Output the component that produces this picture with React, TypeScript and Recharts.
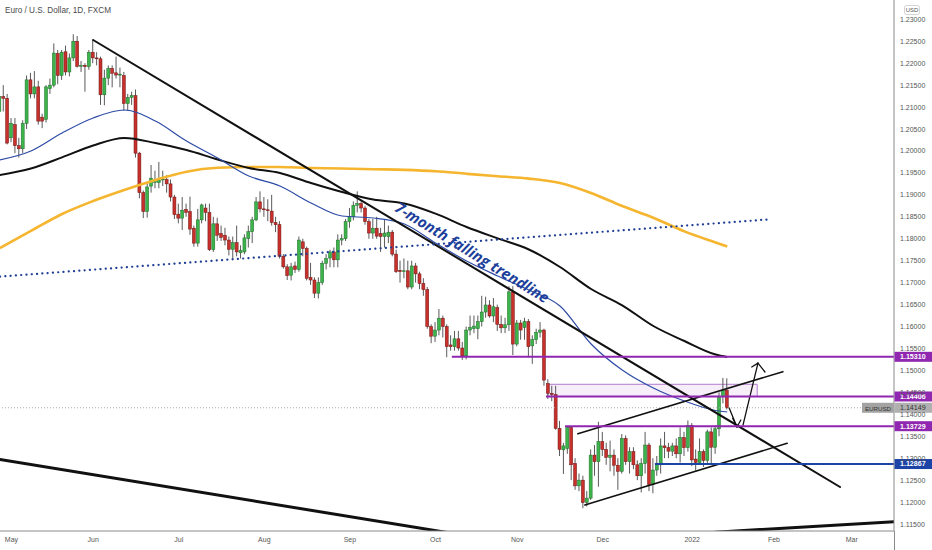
import React from 'react';
import { ComposedChart, Bar, Line, XAxis, YAxis, ReferenceLine, ReferenceArea, ReferenceDot } from 'recharts';

document.body.style.margin = '0';

// daily EUR/USD candles, bar 0 = 28 Apr 2021, last bar = 14 Jan 2022
const opens = [
  1.2090, 1.2124, 1.2120, 1.2030, 1.2060, 1.2012, 1.2005, 1.2063, 1.2162, 1.2130,
  1.2146, 1.2077, 1.2072, 1.2142, 1.2150, 1.2222, 1.2172, 1.2226, 1.2180, 1.2212,
  1.2250, 1.2193, 1.2195, 1.2192, 1.2225, 1.2212, 1.2210, 1.2128, 1.2166, 1.2188,
  1.2178, 1.2173, 1.2172, 1.2108, 1.2122, 1.2126, 1.1995, 1.1905, 1.1862, 1.1920,
  1.1928, 1.1928, 1.1934, 1.1935, 1.1925, 1.1895, 1.1856, 1.1847, 1.1867, 1.1862,
  1.1824, 1.1790, 1.1843, 1.1870, 1.1860, 1.1775, 1.1834, 1.1812, 1.1808, 1.1797,
  1.1776, 1.1791, 1.1768, 1.1770, 1.1800, 1.1816, 1.1843, 1.1884, 1.1868, 1.1866,
  1.1863, 1.1837, 1.1832, 1.1760, 1.1736, 1.1717, 1.1738, 1.1730, 1.1793, 1.1778,
  1.1712, 1.1706, 1.1676, 1.1700, 1.1744, 1.1756, 1.1770, 1.1752, 1.1797, 1.1800,
  1.1839, 1.1850, 1.1876, 1.1880, 1.1870, 1.1839, 1.1813, 1.1824, 1.1812, 1.1805,
  1.1805, 1.1815, 1.1765, 1.1728, 1.1725, 1.1727, 1.1690, 1.1738, 1.1720, 1.1698,
  1.1684, 1.1600, 1.1578, 1.1592, 1.1619, 1.1600, 1.1558, 1.1554, 1.1572, 1.1551,
  1.1533, 1.1592, 1.1595, 1.1595, 1.1611, 1.1633, 1.1649, 1.1624, 1.1643, 1.1605,
  1.1597, 1.1604, 1.1679, 1.1560, 1.1608, 1.1598, 1.1611, 1.1556, 1.1570, 1.1587,
  1.1592, 1.1470, 1.1448, 1.1445, 1.1368, 1.1319, 1.1322, 1.1370, 1.1288, 1.1237,
  1.1250, 1.1199, 1.1209, 1.1307, 1.1292, 1.1338, 1.1320, 1.1302, 1.1307, 1.1284,
  1.1270, 1.1345, 1.1292, 1.1315, 1.1285, 1.1260, 1.1288, 1.1330, 1.1240, 1.1273,
  1.1285, 1.1328, 1.1324, 1.1316, 1.1328, 1.1310, 1.1347, 1.1324, 1.1375, 1.1298,
  1.1290, 1.1315, 1.1295, 1.1360, 1.1325, 1.1367, 1.1440, 1.1455,
];
const highs = [
  1.2130, 1.2150, 1.2130, 1.2075, 1.2075, 1.2030, 1.2070, 1.2172, 1.2178, 1.2182,
  1.2160, 1.2085, 1.2150, 1.2165, 1.2245, 1.2230, 1.2230, 1.2240, 1.2222, 1.2266,
  1.2262, 1.2205, 1.2200, 1.2230, 1.2254, 1.2225, 1.2215, 1.2185, 1.2195, 1.2195,
  1.2215, 1.2190, 1.2180, 1.2130, 1.2135, 1.2140, 1.1998, 1.1910, 1.1925, 1.1968,
  1.1955, 1.1975, 1.1955, 1.1945, 1.1935, 1.1900, 1.1880, 1.1895, 1.1880, 1.1896,
  1.1830, 1.1868, 1.1880, 1.1880, 1.1880, 1.1850, 1.1848, 1.1830, 1.1825, 1.1805,
  1.1805, 1.1830, 1.1785, 1.1810, 1.1830, 1.1850, 1.1895, 1.1908, 1.1895, 1.1890,
  1.1900, 1.1850, 1.1840, 1.1765, 1.1742, 1.1745, 1.1748, 1.1805, 1.1800, 1.1782,
  1.1745, 1.1712, 1.1712, 1.1750, 1.1765, 1.1775, 1.1780, 1.1810, 1.1810, 1.1845,
  1.1870, 1.1885, 1.1908, 1.1885, 1.1875, 1.1845, 1.1845, 1.1850, 1.1825, 1.1845,
  1.1830, 1.1820, 1.1775, 1.1750, 1.1755, 1.1750, 1.1750, 1.1745, 1.1725, 1.1710,
  1.1690, 1.1605, 1.1610, 1.1640, 1.1625, 1.1605, 1.1580, 1.1590, 1.1590, 1.1565,
  1.1600, 1.1625, 1.1625, 1.1625, 1.1670, 1.1668, 1.1660, 1.1665, 1.1650, 1.1625,
  1.1620, 1.1692, 1.1692, 1.1615, 1.1615, 1.1620, 1.1617, 1.1580, 1.1595, 1.1610,
  1.1595, 1.1480, 1.1465, 1.1465, 1.1385, 1.1335, 1.1373, 1.1373, 1.1300, 1.1265,
  1.1260, 1.1225, 1.1320, 1.1330, 1.1383, 1.1360, 1.1335, 1.1340, 1.1320, 1.1300,
  1.1355, 1.1352, 1.1325, 1.1325, 1.1295, 1.1300, 1.1360, 1.1335, 1.1300, 1.1305,
  1.1345, 1.1360, 1.1335, 1.1335, 1.1345, 1.1370, 1.1360, 1.1386, 1.1380, 1.1320,
  1.1345, 1.1320, 1.1365, 1.1370, 1.1375, 1.1450, 1.1483, 1.1482,
];
const lows = [
  1.2075, 1.2090, 1.2015, 1.2020, 1.1995, 1.1985, 1.1995, 1.2050, 1.2120, 1.2120,
  1.2060, 1.2052, 1.2065, 1.2130, 1.2145, 1.2152, 1.2162, 1.2172, 1.2170, 1.2205,
  1.2190, 1.2180, 1.2135, 1.2185, 1.2200, 1.2195, 1.2105, 1.2104, 1.2150, 1.2145,
  1.2165, 1.2145, 1.2092, 1.2093, 1.2105, 1.1985, 1.1892, 1.1847, 1.1848, 1.1905,
  1.1915, 1.1915, 1.1920, 1.1905, 1.1885, 1.1845, 1.1835, 1.1820, 1.1850, 1.1809,
  1.1782, 1.1782, 1.1835, 1.1840, 1.1772, 1.1770, 1.1795, 1.1795, 1.1785, 1.1762,
  1.1752, 1.1760, 1.1755, 1.1765, 1.1780, 1.1790, 1.1840, 1.1860, 1.1850, 1.1840,
  1.1830, 1.1815, 1.1755, 1.1732, 1.1706, 1.1705, 1.1722, 1.1725, 1.1760, 1.1705,
  1.1695, 1.1665, 1.1664, 1.1695, 1.1730, 1.1735, 1.1735, 1.1735, 1.1785, 1.1795,
  1.1825, 1.1842, 1.1860, 1.1860, 1.1832, 1.1800, 1.1800, 1.1800, 1.1770, 1.1780,
  1.1790, 1.1760, 1.1722, 1.1700, 1.1710, 1.1685, 1.1685, 1.1700, 1.1685, 1.1670,
  1.1595, 1.1562, 1.1565, 1.1580, 1.1575, 1.1530, 1.1545, 1.1545, 1.1545, 1.1524,
  1.1525, 1.1580, 1.1585, 1.1571, 1.1600, 1.1620, 1.1620, 1.1610, 1.1590, 1.1585,
  1.1585, 1.1590, 1.1535, 1.1555, 1.1570, 1.1570, 1.1530, 1.1515, 1.1560, 1.1575,
  1.1465, 1.1435, 1.1430, 1.1365, 1.1305, 1.1264, 1.1310, 1.1250, 1.1228, 1.1225,
  1.1186, 1.1190, 1.1205, 1.1260, 1.1235, 1.1305, 1.1285, 1.1270, 1.1260, 1.1228,
  1.1265, 1.1285, 1.1265, 1.1275, 1.1250, 1.1222, 1.1265, 1.1225, 1.1220, 1.1260,
  1.1265, 1.1300, 1.1300, 1.1305, 1.1300, 1.1290, 1.1305, 1.1315, 1.1282, 1.1272,
  1.1285, 1.1280, 1.1285, 1.1285, 1.1310, 1.1350, 1.1425, 1.1411,
];
const closes = [
  1.2124, 1.2120, 1.2018, 1.2063, 1.2012, 1.2005, 1.2063, 1.2162, 1.2130, 1.2146,
  1.2068, 1.2068, 1.2146, 1.2150, 1.2223, 1.2172, 1.2225, 1.2180, 1.2212, 1.2250,
  1.2193, 1.2195, 1.2192, 1.2225, 1.2212, 1.2210, 1.2128, 1.2166, 1.2188, 1.2177,
  1.2173, 1.2175, 1.2108, 1.2122, 1.2126, 1.1995, 1.1905, 1.1862, 1.1918, 1.1938,
  1.1934, 1.1934, 1.1936, 1.1925, 1.1895, 1.1855, 1.1847, 1.1865, 1.1860, 1.1822,
  1.1790, 1.1843, 1.1877, 1.1860, 1.1775, 1.1834, 1.1808, 1.1803, 1.1797, 1.1776,
  1.1791, 1.1770, 1.1773, 1.1802, 1.1816, 1.1843, 1.1884, 1.1868, 1.1866, 1.1864,
  1.1837, 1.1832, 1.1760, 1.1736, 1.1716, 1.1736, 1.1730, 1.1797, 1.1778, 1.1710,
  1.1706, 1.1676, 1.1700, 1.1744, 1.1755, 1.1770, 1.1752, 1.1797, 1.1800, 1.1839,
  1.1850, 1.1876, 1.1880, 1.1870, 1.1839, 1.1813, 1.1824, 1.1806, 1.1805, 1.1813,
  1.1815, 1.1765, 1.1725, 1.1725, 1.1727, 1.1690, 1.1738, 1.1720, 1.1698, 1.1684,
  1.1600, 1.1578, 1.1592, 1.1619, 1.1600, 1.1554, 1.1554, 1.1572, 1.1551, 1.1533,
  1.1592, 1.1598, 1.1601, 1.1611, 1.1633, 1.1649, 1.1624, 1.1645, 1.1605, 1.1597,
  1.1604, 1.1679, 1.1560, 1.1608, 1.1592, 1.1611, 1.1554, 1.1570, 1.1587, 1.1592,
  1.1478, 1.1448, 1.1445, 1.1368, 1.1320, 1.1328, 1.1370, 1.1285, 1.1237, 1.1250,
  1.1199, 1.1209, 1.1307, 1.1292, 1.1338, 1.1320, 1.1302, 1.1307, 1.1284, 1.1270,
  1.1345, 1.1292, 1.1315, 1.1285, 1.1260, 1.1288, 1.1330, 1.1240, 1.1273, 1.1285,
  1.1328, 1.1324, 1.1316, 1.1328, 1.1310, 1.1347, 1.1324, 1.1375, 1.1296, 1.1290,
  1.1315, 1.1295, 1.1360, 1.1325, 1.1367, 1.1440, 1.1455, 1.14149,
];

// moving averages at these bars
const maIndex = [0, 8, 16, 24, 32, 40, 48, 56, 64, 72, 80, 88, 96, 104, 112, 120, 128, 136, 144, 152, 160, 168, 176, 184, 187];
const maBlue = [
  1.19794, 1.19999, 1.20409, 1.20751, 1.20933, 1.20683, 1.20227, 1.19840, 1.19430, 1.19202,
  1.18815, 1.18518, 1.18473, 1.18336, 1.17903, 1.17493, 1.17151, 1.16832, 1.16468, 1.15602,
  1.15010, 1.14600, 1.14303, 1.14087, 1.14053,
];
const maBlack = [
  1.19453, 1.19601, 1.19854, 1.20125, 1.20296, 1.20182, 1.20022, 1.19806, 1.19612, 1.19498,
  1.19270, 1.19065, 1.18894, 1.18803, 1.18573, 1.18268, 1.18008, 1.17755, 1.17356, 1.16855,
  1.16484, 1.16012, 1.15670, 1.15363, 1.15306,
];
const maOrange = [
  1.17789, 1.18177, 1.18564, 1.18860, 1.19111, 1.19339, 1.19528, 1.19617, 1.19635, 1.19635,
  1.19612, 1.19600, 1.19585, 1.19570, 1.19539, 1.19480, 1.19423, 1.19370, 1.19270, 1.19042,
  1.18746, 1.18480, 1.18168, 1.17915, 1.17823,
];

const monthTicks = [3, 24, 46, 68, 90, 112, 133, 155, 178, 199, 219];
const monthLabels = ['May', 'Jun', 'Jul', 'Aug', 'Sep', 'Oct', 'Nov', 'Dec', '2022', 'Feb', 'Mar'];
const priceTicks = [
  1.115, 1.12, 1.125, 1.13, 1.135, 1.14, 1.145, 1.15, 1.155, 1.16, 1.165, 1.17,
  1.175, 1.18, 1.185, 1.19, 1.195, 1.2, 1.205, 1.21, 1.215, 1.22, 1.225, 1.23,
];

// horizontal levels: price and the bar they start from
const purpleLevels = [1.1531, 1.14406, 1.13729];
const purpleStart = [116.2, 140.4, 145.3];
const blueLevel = 1.12867;
const blueStart = 168.4;
const lastPrice = 1.14149;

// drawings (bar index, price)
const fallingTrend = [{ x: 24, y: 1.22528 }, { x: 216, y: 1.12344 }];
const dottedTrend = [{ x: 0.05, y: 1.17138 }, { x: 198, y: 1.18443 }];
const longLowLeft = [{ x: 0.05, y: 1.1297 }, { x: 118.3, y: 1.11259 }];
const longLowRight = [{ x: 183.9, y: 1.11314 }, { x: 231.4, y: 1.11562 }];
const channelTop = [{ x: 148.6, y: 1.13558 }, { x: 201.3, y: 1.14971 }];
const channelBottom = [{ x: 150.4, y: 1.11934 }, { x: 202.4, y: 1.13339 }];
const arrowDown = [{ x: 187.5, y: 1.14143 }, { x: 189.5, y: 1.1371 }];
const arrowDownHead = [{ x: 188.4, y: 1.13909 }, { x: 189.5, y: 1.1371 }, { x: 190.5, y: 1.1387 }];
const arrowUp = [{ x: 191.05, y: 1.13755 }, { x: 194.9, y: 1.15167 }];
const arrowUpHead = [{ x: 193.3, y: 1.15078 }, { x: 194.9, y: 1.15167 }, { x: 196.7, y: 1.14964 }];
const zone = { x1: 140.9, x2: 194.7, y1: 1.14406, y2: 1.14684 };
const trendLabel = { x: 121.5, y: 1.17698, text: '7-month falling trendline' };

const X_DOMAIN: [number, number] = [0.05, 229.87];
const Y_DOMAIN: [number, number] = [1.113413, 1.234397];
const FONT = '"Liberation Sans", Arial, sans-serif';
const PURPLE = '#9027b0';
const NAVY = '#1c43a6';

const table = opens.map((o, i) => ({
  i, o, h: highs[i], l: lows[i], c: closes[i], range: [lows[i], highs[i]],
})) as any[];
maIndex.forEach((k, n) => {
  table[k].blue = maBlue[n];
  table[k].black = maBlack[n];
  table[k].orange = maOrange[n];
});

const Candle = (props: any) => {
  const { x, y, width, height, payload } = props;
  if (height == null || !payload) return null;
  const { o, h, l, c } = payload;
  const top = Math.min(y, y + height);
  const span = Math.abs(height);
  const k = span / (h - l || 1e-9);
  const yO = top + (h - o) * k;
  const yC = top + (h - c) * k;
  const cx = x + width / 2;
  const up = c >= o;
  const bt = Math.min(yO, yC);
  const bh = Math.max(Math.abs(yC - yO), 0.9);
  return (
    <g>
      <line x1={cx} x2={cx} y1={top} y2={top + span} stroke="#5a5a5a" strokeWidth={1} />
      <rect x={cx - 1.5} y={bt} width={3} height={bh}
        fill={up ? '#3cb44b' : '#c8302c'} stroke={up ? '#1d6b27' : '#6e1512'} strokeWidth={0.5} />
    </g>
  );
};

const Seg = ({ pts, color = '#111', w = 1.5, dash }: any) => (
  <ReferenceLine segment={pts} stroke={color} strokeWidth={w} strokeDasharray={dash}
    strokeLinecap="round" ifOverflow="hidden" />
);

const tag = (text: string, bg: string, fg: string, bold = true) => (p: any) => (
  <g>
    <rect x={p.cx + 0.5} y={p.cy - 5} width={40} height={10} fill={bg} />
    <text x={p.cx + 6} y={p.cy + 0.3} dominantBaseline="central" fontSize={7.1}
      fontWeight={bold ? 700 : 400} fill={fg} fontFamily={FONT}>{text}</text>
  </g>
);

export default function App() {
  return (
    <div style={{ position: 'relative', width: 932, height: 550, background: '#fff' }}>
      <ComposedChart width={932} height={550} data={table} margin={{ top: 0, right: 0, bottom: 0, left: 0 }}>
        <XAxis dataKey="i" type="number" domain={X_DOMAIN} allowDataOverflow ticks={monthTicks} interval={0}
          tickFormatter={(v) => monthLabels[monthTicks.indexOf(v)] ?? ''} height={19}
          tickLine={false} tickSize={4} tickMargin={2} axisLine={{ stroke: '#8a8a8a' }}
          tick={{ fontSize: 7, fill: '#555', fontFamily: FONT }} />
        <YAxis orientation="right" type="number" domain={Y_DOMAIN} allowDataOverflow ticks={priceTicks} interval={0}
          width={38} tickFormatter={(v) => Number(v).toFixed(5)} tickLine={false} tickSize={4} tickMargin={2}
          axisLine={{ stroke: '#8a8a8a' }} tick={{ fontSize: 7, fill: '#555', fontFamily: FONT }}
          label={{
            content: (p: any) => (
              <g>
                <rect x={p.viewBox.x + 10.5} y={5.5} width={15} height={9} rx={2} fill="#fff" stroke="#c8c8c8" strokeWidth={0.8} />
                <text x={p.viewBox.x + 18} y={10.3} textAnchor="middle" dominantBaseline="central" fontSize={6}
                  fill="#555" fontFamily={FONT}>USD</text>
              </g>
            ),
          }} />

        <ReferenceArea x1={zone.x1} x2={zone.x2} y1={zone.y1} y2={zone.y2} fill={PURPLE} fillOpacity={0.08}
          stroke="#b27ccc" strokeWidth={1} ifOverflow="hidden" />
        <ReferenceLine y={lastPrice} stroke="#a8a8a8" strokeDasharray="1 2" strokeWidth={1} />

        <Bar dataKey="range" barSize={3} shape={<Candle />} isAnimationActive={false} />

        <Line dataKey="orange" type="monotone" stroke="#f5b52e" strokeWidth={2.6} dot={false} connectNulls isAnimationActive={false} />
        <Line dataKey="black" type="monotone" stroke="#111" strokeWidth={2} dot={false} connectNulls isAnimationActive={false} />
        <Line dataKey="blue" type="monotone" stroke="#2d4ba6" strokeWidth={1.2} dot={false} connectNulls isAnimationActive={false} />

        <Seg pts={fallingTrend} w={2} />
        <Seg pts={dottedTrend} color="#1f3e96" w={2.2} dash="0.1 5.2" />
        <Seg pts={longLowLeft} w={3} />
        <Seg pts={longLowRight} w={3} />
        <Seg pts={channelTop} w={1.6} />
        <Seg pts={channelBottom} w={1.6} />
        <Seg pts={arrowDown} w={1.3} />
        <Seg pts={[arrowDownHead[0], arrowDownHead[1]]} w={1.3} />
        <Seg pts={[arrowDownHead[1], arrowDownHead[2]]} w={1.3} />
        <Seg pts={arrowUp} w={1.3} />
        <Seg pts={[arrowUpHead[0], arrowUpHead[1]]} w={1.3} />
        <Seg pts={[arrowUpHead[1], arrowUpHead[2]]} w={1.3} />

        {purpleLevels.map((p, n) => (
          <ReferenceLine key={p} segment={[{ x: purpleStart[n], y: p }, { x: X_DOMAIN[1], y: p }]}
            stroke={PURPLE} strokeWidth={2} ifOverflow="hidden" />
        ))}
        <ReferenceLine segment={[{ x: blueStart, y: blueLevel }, { x: X_DOMAIN[1], y: blueLevel }]}
          stroke={NAVY} strokeWidth={2} ifOverflow="hidden" />

        <ReferenceDot x={trendLabel.x} y={trendLabel.y} r={0} ifOverflow="visible"
          shape={(p: any) => (
            <text x={p.cx} y={p.cy} transform={`rotate(31.6 ${p.cx} ${p.cy})`} textAnchor="middle"
              dominantBaseline="central" fontSize={15} fontWeight={700} fontStyle="italic" fill="#1d3f9b"
              fontFamily='"Open Sans", sans-serif'>{trendLabel.text}</text>
          )} />

        {purpleLevels.map((p) => (
          <ReferenceDot key={'t' + p} x={X_DOMAIN[1]} y={p} r={0} ifOverflow="visible"
            shape={tag(p.toFixed(5), PURPLE, '#fff')} />
        ))}
        <ReferenceDot x={X_DOMAIN[1]} y={blueLevel} r={0} ifOverflow="visible" shape={tag(blueLevel.toFixed(5), NAVY, '#fff')} />
        <ReferenceDot x={X_DOMAIN[1]} y={lastPrice} r={0} ifOverflow="visible"
          shape={(p: any) => (
            <g>
              <rect x={p.cx - 32} y={p.cy - 5} width={32} height={10} fill="#a3a3a3" />
              <text x={p.cx - 16} y={p.cy + 0.3} textAnchor="middle" dominantBaseline="central" fontSize={6.2}
                fill="#333" fontFamily={FONT}>EURUSD</text>
              {tag(lastPrice.toFixed(5), '#b0b0b0', '#333', false)(p)}
            </g>
          )} />
      </ComposedChart>
      <div style={{ position: 'absolute', left: 5, top: 6, fontSize: 8.2, color: '#4a4a4a', fontFamily: FONT, lineHeight: '10px' }}>
        Euro / U.S. Dollar, 1D, FXCM
      </div>
      <div style={{ position: 'absolute', left: 894, top: 531, width: 1, height: 19, background: '#8a8a8a' }} />
    </div>
  );
}
